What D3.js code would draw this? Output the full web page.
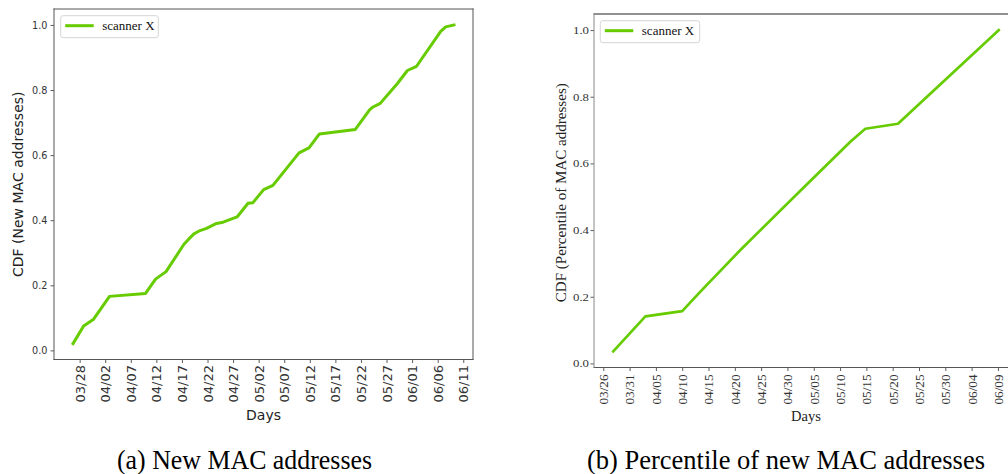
<!DOCTYPE html>
<html>
<head>
<meta charset="utf-8">
<script src="https://cdn.jsdelivr.net/npm/d3@7"></script>
<style>
  html, body { margin: 0; padding: 0; background: #fff; }
  svg { display: block; }
</style>
</head>
<body>
<script>
// Days are counted from 03/26 (day 0).
// Panel (a): cumulative share of new MAC addresses seen by scanner X
const daysA = [0.71, 2.78, 4.73, 7.84, 14.89, 16.84, 18.89, 22.39, 23.27, 24.34,
               25.37, 26.81, 28.76, 30.05, 32.78, 34.92, 35.89, 37.98, 39.79, 44.89,
               46.84, 48.88, 55.9, 58.72, 59.27, 60.77, 64.13, 66.08, 67.87, 72.59,
               73.56, 75.18];
const cdfA = [0.021, 0.075, 0.096, 0.166, 0.175, 0.219, 0.242, 0.326, 0.341, 0.358,
              0.367, 0.375, 0.390, 0.394, 0.410, 0.452, 0.454, 0.494, 0.507, 0.607,
              0.622, 0.665, 0.679, 0.740, 0.747, 0.759, 0.820, 0.860, 0.873, 0.980,
              0.994, 1.0];

// Panel (b): percentile of new MAC addresses
const daysB = [1.9, 8.0, 15.0, 18.5, 26.1, 37.5, 47.0, 49.8, 56.0, 75.15];
const cdfB = [0.036, 0.141, 0.157, 0.216, 0.341, 0.519, 0.666, 0.704, 0.719, 1.0];

const seriesName = "scanner X";

const tickLabelsA = ["03/28", "04/02", "04/07", "04/12", "04/17", "04/22", "04/27", "05/02",
                     "05/07", "05/12", "05/17", "05/22", "05/27", "06/01", "06/06", "06/11"];
const firstTickDayA = 2;
const tickLabelsB = ["03/26", "03/31", "04/05", "04/10", "04/15", "04/20", "04/25", "04/30",
                     "05/05", "05/10", "05/15", "05/20", "05/25", "05/30", "06/04", "06/09"];
const firstTickDayB = 0;
const tickStepDays = 5;

const yTicks = [0, 0.2, 0.4, 0.6, 0.8, 1.0];

const captionA = "(a) New MAC addresses";
const captionB = "(b) Percentile of new MAC addresses";
const yLabelA = "CDF (New MAC addresses)";
const yLabelB = "CDF (Percentile of MAC addresses)";
const xLabel = "Days";

const lineColor = "#66cc00";

const svg = d3.select("body").append("svg")
  .attr("width", 1008).attr("height", 474);

// pad an extent by 5% on both sides
function padded(ext) {
  const m = (ext[1] - ext[0]) * 0.05;
  return [ext[0] - m, ext[1] + m];
}

function drawPanel(cfg) {
  const g = svg.append("g");
  const x = d3.scaleLinear().domain(padded(d3.extent(cfg.days))).range([cfg.left, cfg.right]);
  const y = d3.scaleLinear().domain(padded(d3.extent(cfg.values))).range([cfg.bottom, cfg.top]);

  const xTickVals = cfg.tickLabels.map((_, i) => cfg.firstTick + i * tickStepDays);

  // x axis
  const xAxis = d3.axisBottom(x)
    .tickValues(xTickVals)
    .tickFormat((d, i) => cfg.tickLabels[i])
    .tickSize(3.5).tickSizeOuter(0);
  const gx = g.append("g").attr("transform", `translate(0,${cfg.bottom})`).call(xAxis);
  gx.select(".domain").remove();
  gx.selectAll(".tick line").attr("stroke", cfg.tickColor).attr("stroke-width", 0.8);
  const xt = gx.selectAll(".tick text")
    .attr("transform", "rotate(-90)")
    .attr("text-anchor", "end")
    .attr("x", -cfg.xTickPad)
    .attr("y", 0)
    .attr("dy", "0.35em")
    .attr("fill", cfg.textColor)
    .style("font-family", cfg.tickFont)
    .style("font-size", cfg.xTickSize + "px");
  if (cfg.xTickLen) xt.attr("textLength", cfg.xTickLen).attr("lengthAdjust", "spacingAndGlyphs");

  // y axis
  const yAxis = d3.axisLeft(y)
    .tickValues(yTicks)
    .tickFormat(d3.format(".1f"))
    .tickSize(3.5).tickSizeOuter(0);
  const gy = g.append("g").attr("transform", `translate(${cfg.left},0)`).call(yAxis);
  gy.select(".domain").remove();
  gy.selectAll(".tick line").attr("stroke", cfg.tickColor).attr("stroke-width", 0.8);
  const yt = gy.selectAll(".tick text")
    .attr("x", -cfg.yTickPad)
    .attr("fill", cfg.textColor)
    .style("font-family", cfg.tickFont)
    .style("font-size", cfg.yTickSize + "px");
  if (cfg.yTickLen) yt.attr("textLength", cfg.yTickLen).attr("lengthAdjust", "spacingAndGlyphs");

  // data line
  const pts = cfg.days.map((d, i) => [d, cfg.values[i]]);
  g.append("path")
    .datum(pts)
    .attr("fill", "none")
    .attr("stroke", lineColor)
    .attr("stroke-width", cfg.lineWidth)
    .attr("stroke-linejoin", "round")
    .attr("stroke-linecap", "square")
    .attr("d", d3.line().x(d => x(d[0])).y(d => y(d[1])));

  // frame
  const spines = [
    { x1: cfg.left, y1: cfg.top, x2: cfg.right, y2: cfg.top, c: cfg.spine.top },
    { x1: cfg.left, y1: cfg.bottom, x2: cfg.right, y2: cfg.bottom, c: cfg.spine.bottom },
    { x1: cfg.left, y1: cfg.top, x2: cfg.left, y2: cfg.bottom, c: cfg.spine.left },
    { x1: cfg.right, y1: cfg.top, x2: cfg.right, y2: cfg.bottom, c: cfg.spine.right }
  ];
  g.selectAll("line.spine").data(spines).enter().append("line")
    .attr("class", "spine")
    .attr("x1", d => d.x1).attr("y1", d => d.y1)
    .attr("x2", d => d.x2).attr("y2", d => d.y2)
    .attr("stroke", d => d.c).attr("stroke-width", 1)
    .attr("stroke-linecap", "square");

  // axis titles
  g.append("text")
    .attr("x", (cfg.left + cfg.right) / 2)
    .attr("y", cfg.xLabelY)
    .attr("text-anchor", "middle")
    .attr("fill", cfg.labelColor)
    .style("font-family", cfg.labelFont)
    .style("font-size", cfg.labelSize + "px")
    .text(xLabel);

  const yl = g.append("text")
    .attr("transform", `translate(${cfg.yLabelX},${(cfg.top + cfg.bottom) / 2 + cfg.yLabelShift}) rotate(-90)`)
    .attr("text-anchor", "middle")
    .attr("fill", cfg.labelColor)
    .style("font-family", cfg.labelFont)
    .style("font-size", cfg.labelSize + "px")
    .text(cfg.yLabel);
  if (cfg.yLabelLen) yl.attr("textLength", cfg.yLabelLen).attr("lengthAdjust", "spacingAndGlyphs");

  // legend
  const L = cfg.legend;
  const lg = g.append("g");
  lg.append("rect")
    .attr("x", L.x).attr("y", L.y).attr("width", L.w).attr("height", L.h)
    .attr("rx", 2.5).attr("ry", 2.5)
    .attr("fill", "#fff").attr("fill-opacity", 0.8)
    .attr("stroke", "#d6d6d6").attr("stroke-width", 1);
  lg.append("line")
    .attr("x1", L.x + 4.5).attr("x2", L.x + 33)
    .attr("y1", L.y + L.h / 2 - 1).attr("y2", L.y + L.h / 2 - 1)
    .attr("stroke", lineColor).attr("stroke-width", 3);
  lg.append("text")
    .attr("x", L.x + 41.5).attr("y", L.y + L.h / 2 + 3.5)
    .attr("fill", "#111")
    .style("font-family", "'Liberation Serif', 'Times New Roman', serif")
    .style("font-size", "13px")
    .text(seriesName);

  // caption below the panel
  svg.append("text")
    .attr("x", cfg.captionX).attr("y", 469)
    .attr("textLength", cfg.captionLen).attr("lengthAdjust", "spacingAndGlyphs")
    .attr("fill", "#000")
    .style("font-family", "'Liberation Serif', 'Times New Roman', serif")
    .style("font-size", "27px")
    .text(cfg.caption);
}

drawPanel({
  days: daysA, values: cdfA,
  left: 54, right: 473, top: 9, bottom: 359.5,
  tickLabels: tickLabelsA, firstTick: firstTickDayA,
  tickFont: "'DejaVu Sans', sans-serif",
  xTickSize: 13, yTickSize: 9.7, xTickPad: 5.5, yTickPad: 6.5,
  tickColor: "#333", textColor: "#333",
  labelFont: "'DejaVu Sans', sans-serif", labelSize: 14, labelColor: "#222",
  xLabelY: 420, yLabelX: 23, yLabelShift: 0, yLabel: yLabelA,
  lineWidth: 3,
  spine: { top: "#555", bottom: "#555", left: "#555", right: "#555" },
  legend: { x: 60.7, y: 15.7, w: 97.6, h: 22 },
  caption: captionA, captionX: 117, captionLen: 255
});

drawPanel({
  days: daysB, values: cdfB,
  left: 594, right: 1018, top: 14, bottom: 367.5,
  tickLabels: tickLabelsB, firstTick: firstTickDayB,
  tickFont: "'Liberation Serif', 'Times New Roman', serif",
  xTickSize: 12.5, yTickSize: 10.5, xTickPad: 7, yTickPad: 5,
  xTickLen: 30, yTickLen: 16,
  tickColor: "#333", textColor: "#333",
  labelFont: "'Liberation Serif', 'Times New Roman', serif", labelSize: 14.5, labelColor: "#222",
  xLabelY: 421, yLabelX: 566, yLabelShift: 2, yLabel: yLabelB, yLabelLen: 219,
  lineWidth: 2.7,
  spine: { top: "#222", bottom: "#555", left: "#888", right: "#555" },
  legend: { x: 600.3, y: 20.7, w: 99.4, h: 22 },
  caption: captionB, captionX: 587, captionLen: 398
});
</script>
</body>
</html>
